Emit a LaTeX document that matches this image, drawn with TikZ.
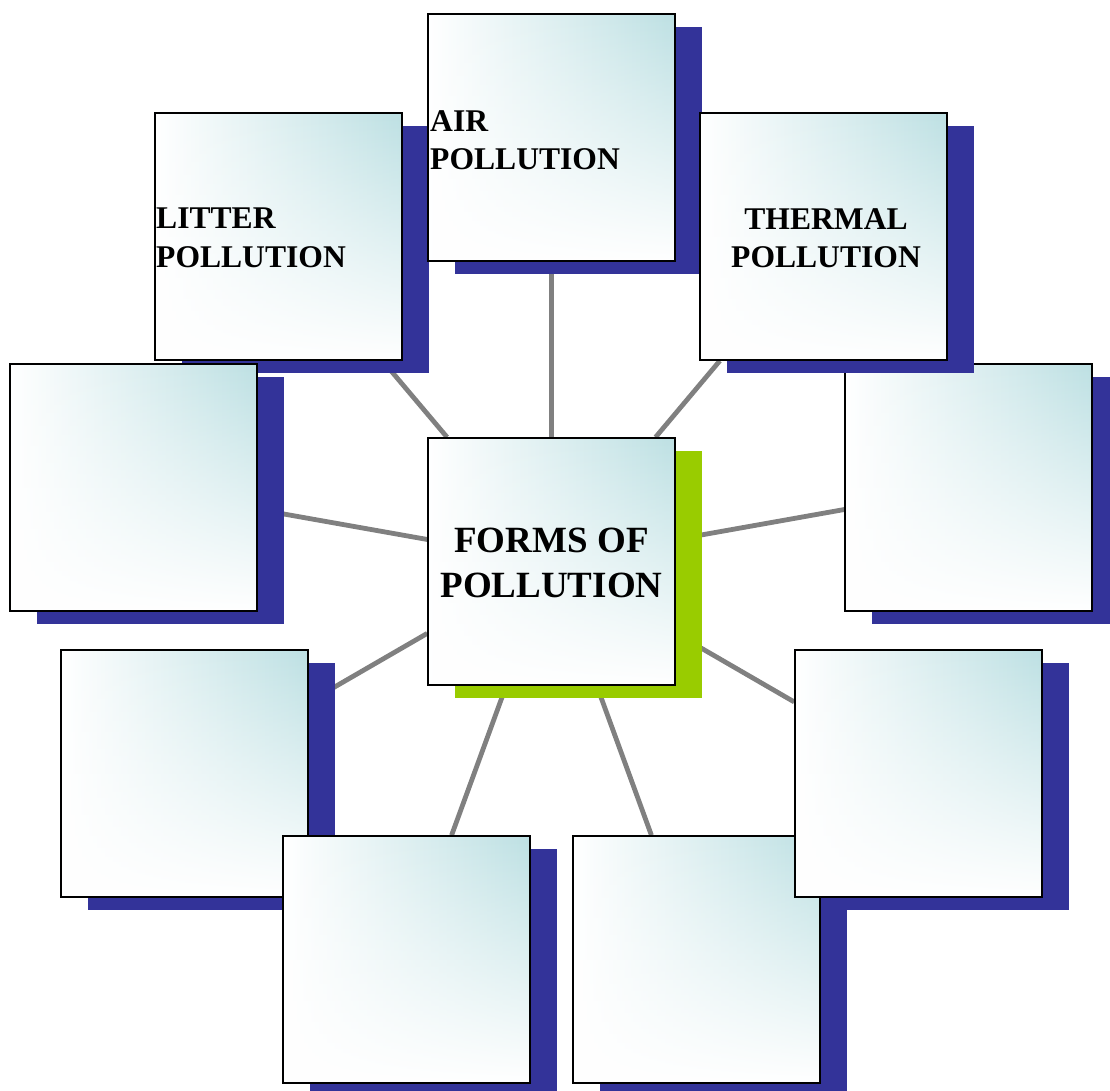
\documentclass[tikz,border=0pt]{standalone}
\usepackage{fontspec}
\setmainfont{Liberation Serif}
\usetikzlibrary{shadows,fadings,backgrounds}
\definecolor{boxteal}{RGB}{189,224,227}
\definecolor{shadeblue}{RGB}{51,51,153}
\definecolor{shadegreen}{RGB}{153,204,0}
\tikzfading[name=fadeup, top color=transparent!100, middle color=transparent!88, bottom color=transparent!0]
\tikzset{
  pbox/.style={minimum size=247pt, inner sep=0pt, draw=black, line width=1.6pt,
    general shadow={fill=#1, shadow xshift=27pt, shadow yshift=-13pt},
    preaction={left color=white, right color=boxteal},
    preaction={fill=white, path fading=fadeup}},
  pbox/.default=shadeblue,
  spoke/.style={draw=gray, line width=4.8pt},
  plabel/.style={inner sep=0pt, font=\fontsize{31.6}{38.5}\selectfont\bfseries}
}
\begin{document}
\begin{tikzpicture}[x=1pt, y=1pt]
  \useasboundingbox (0,0) rectangle (1110,1090);
  \node[pbox] (litter) at (278.5, 853.5) {};
  \node[pbox] (air) at (551.5, 952.5) {};
  \node[pbox] (blanke) at (968.5, 602.5) {};
  \node[pbox] (thermal) at (823.5, 853.5) {};
  \node[pbox] (blankw) at (133.5, 602.5) {};
  \node[pbox=shadegreen] (forms) at (551.5, 528.5) {};
  \node[pbox] (blanksw) at (184.5, 316.5) {};
  \node[pbox] (blankssw) at (406.5, 130.5) {};
  \node[pbox] (blanksse) at (696.5, 130.5) {};
  \node[pbox] (blankse) at (918.5, 316.5) {};
  \node[plabel, anchor=north west, align=left] (airtext) at (430, 980) {AIR\\POLLUTION};
  \node[plabel, anchor=north west, align=left] (littertext) at (156, 882) {LITTER\\POLLUTION};
  \node[plabel, anchor=north, align=center] (thermaltext) at (826, 882) {THERMAL\\POLLUTION};
  \node[plabel, anchor=north, align=center, font=\fontsize{37}{45}\selectfont\bfseries] (formstext) at (551.5, 562) {FORMS OF\\POLLUTION};
  \begin{pgfonlayer}{background}
    \foreach \b in {air,litter,thermal,blankw,blanke,blanksw,blankse,blankssw,blanksse}
      \draw[spoke] (forms) -- (\b);
  \end{pgfonlayer}
\end{tikzpicture}
\end{document}
